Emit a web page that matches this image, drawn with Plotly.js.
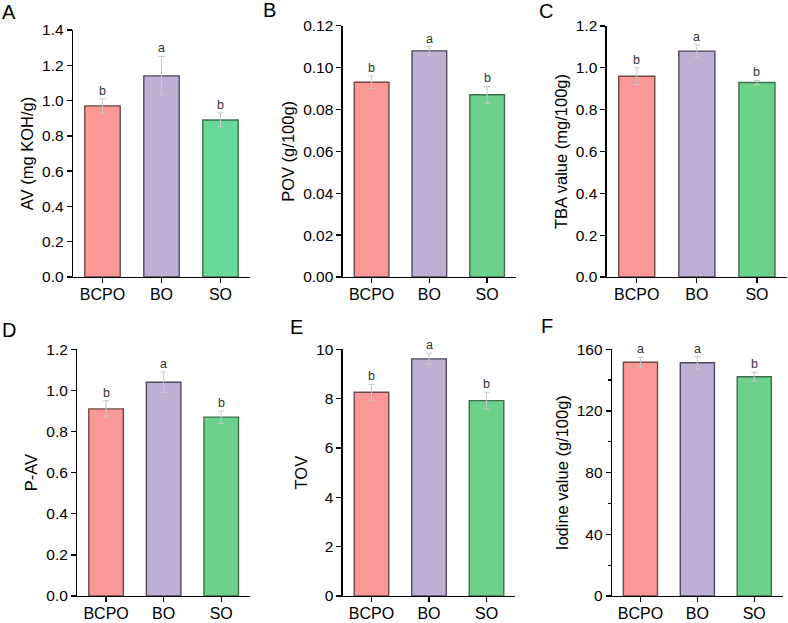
<!DOCTYPE html>
<html>
<head>
<meta charset="utf-8">
<script src="https://cdn.plot.ly/plotly-3.0.1.min.js"></script>
<style>html,body{margin:0;padding:0;background:#fff;}#chart{width:788px;height:623px;}</style>
</head>
<body>
<div id="chart"></div>
<script>
// ---- data ----
const categories = ['BCPO', 'BO', 'SO'];
const avMean = [0.97, 1.14, 0.89];
const avErr = [0.04, 0.11, 0.04];
const avLetters = ['b', 'a', 'b'];
const povMean = [0.093, 0.108, 0.087];
const povErr = [0.003, 0.002, 0.004];
const povLetters = ['b', 'a', 'b'];
const tbaMean = [0.96, 1.08, 0.93];
const tbaErr = [0.04, 0.03, 0.01];
const tbaLetters = ['b', 'a', 'b'];
const pavMean = [0.91, 1.04, 0.87];
const pavErr = [0.04, 0.05, 0.03];
const pavLetters = ['b', 'a', 'b'];
const tovMean = [8.26, 9.61, 7.92];
const tovErr = [0.32, 0.23, 0.34];
const tovLetters = ['b', 'a', 'b'];
const ivMean = [151.6, 151.3, 142.2];
const ivErr = [3.2, 3.9, 2.9];
const ivLetters = ['a', 'a', 'b'];
const panelLabels = ['A', 'B', 'C', 'D', 'E', 'F'];
const yTitles = ['AV (mg KOH/g)', 'POV (g/100g)', 'TBA value (mg/100g)', 'P-AV', 'TOV', 'Iodine value (g/100g)'];
const yRanges = [[0, 1.4], [0, 0.12], [0, 1.2], [0, 1.2], [0, 10], [0, 160]];
const yDticks = [0.2, 0.02, 0.2, 0.2, 2, 40];
const yFormats = ['.1f', '.2f', '.1f', '.1f', 'd', 'd'];

// ---- styles ----
const W = 788, H = 623;
const fills = [
  ['#FA9797', '#BEAFD5', '#66D898'],
  ['#FA9797', '#BEAFD5', '#6DD18B'],
  ['#FA9797', '#BEAFD5', '#6DD18B'],
  ['#FA9797', '#BEAFD5', '#6DD18B'],
  ['#FA9797', '#BEAFD5', '#6DD18B'],
  ['#FA9797', '#BEAFD5', '#6DD18B']
];
const outlines = ['#6E4848', '#4F4A5A', '#3E6E4E'];
// pixel boxes: [x0, x1, yBottom(px), yTop(px)]
const boxes = [
  [73, 250, 277, 30],
  [342.7, 516, 277, 25.7],
  [606.7, 787, 277, 26],
  [77.3, 250, 596, 349.3],
  [342.7, 515.3, 596, 349.3],
  [612, 782.7, 596, 349.3]
];
const labelPos = [[8.5, 11.5], [269, 10], [545.5, 10.5], [8.5, 330], [296, 326.5], [546.5, 326]];

const means = [avMean, povMean, tbaMean, pavMean, tovMean, ivMean];
const errs = [avErr, povErr, tbaErr, pavErr, tovErr, ivErr];
const letters = [avLetters, povLetters, tbaLetters, pavLetters, tovLetters, ivLetters];

const font = 'Liberation Sans, Arial, sans-serif';
const traces = [];
const layout = {
  width: W, height: H,
  margin: {l: 0, r: 0, t: 0, b: 0},
  paper_bgcolor: '#fff', plot_bgcolor: 'rgba(0,0,0,0)',
  showlegend: false,
  font: {family: font, color: '#000'},
  annotations: []
};

for (let i = 0; i < 6; i++) {
  const n = i === 0 ? '' : String(i + 1);
  const b = boxes[i];
  traces.push({
    type: 'bar',
    x: categories,
    y: means[i],
    xaxis: 'x' + n, yaxis: 'y' + n,
    width: 0.6,
    marker: {color: fills[i], line: {color: outlines, width: 1.4}},
    error_y: {type: 'data', array: errs[i], visible: true, color: '#C8C8C8', thickness: 1, width: 3},
    hoverinfo: 'x+y'
  });
  const xa = {
    domain: [b[0] / W, b[1] / W],
    anchor: 'y' + n,
    type: 'category',
    range: [-0.5, 2.5],
    showline: true, linecolor: '#000', linewidth: 1.3,
    ticks: 'outside', ticklen: 5, tickwidth: 1.3, tickcolor: '#000',
    ticklabelstandoff: -3,
    showgrid: false, zeroline: false,
    tickfont: {family: font, size: 16, color: '#000'},
    fixedrange: true
  };
  const ya = {
    domain: [1 - b[2] / H, 1 - b[3] / H],
    anchor: 'x' + n,
    range: yRanges[i],
    dtick: yDticks[i], tick0: 0,
    tickformat: yFormats[i],
    showline: true, linecolor: '#000', linewidth: 1.3,
    ticks: 'outside', ticklen: 5, tickwidth: 1.3, tickcolor: '#000',
    showgrid: false, zeroline: false,
    tickfont: {family: font, size: 15.5, color: '#000'},
    title: {text: yTitles[i], font: {family: font, size: 16.5, color: '#000'}, standoff: 4},
    fixedrange: true
  };
  if (i === 5) {
    ya.minor = {dtick: 20, ticks: 'outside', ticklen: 3, tickwidth: 1.3, tickcolor: '#000', showgrid: false};
  }
  layout['xaxis' + n] = xa;
  layout['yaxis' + n] = ya;

  for (let k = 0; k < categories.length; k++) {
    layout.annotations.push({
      xref: 'x' + n, yref: 'y' + n,
      x: categories[k], y: means[i][k] + errs[i][k],
      text: letters[i][k], showarrow: false,
      yanchor: 'bottom', yshift: -1,
      font: {family: font, size: 12.5, color: '#333'}
    });
  }
  layout.annotations.push({
    xref: 'paper', yref: 'paper',
    x: labelPos[i][0] / W, y: 1 - labelPos[i][1] / H,
    xanchor: 'center', yanchor: 'middle',
    text: panelLabels[i], showarrow: false,
    font: {family: font, size: 20, color: '#000'}
  });
}

Plotly.newPlot('chart', traces, layout, {displayModeBar: false, staticPlot: true});
</script>
</body>
</html>
